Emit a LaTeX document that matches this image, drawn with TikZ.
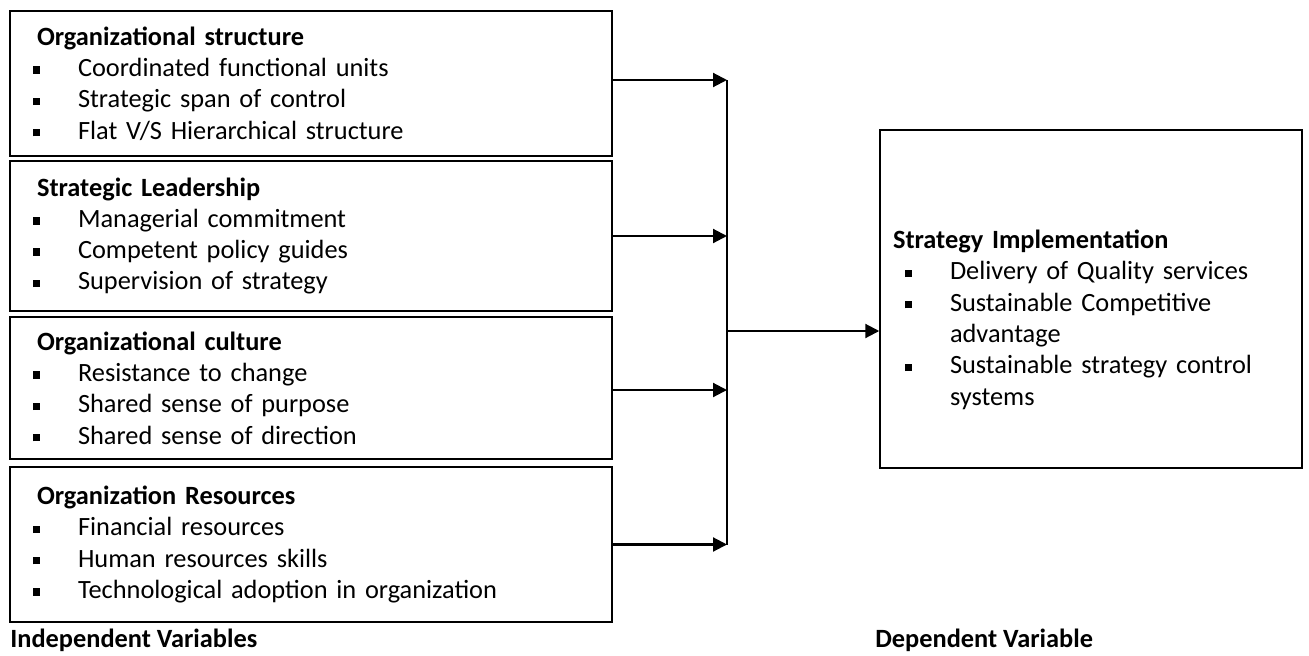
\documentclass[tikz,border=0pt]{standalone}
\usepackage{fontspec}
\setmainfont{Carlito}
\usetikzlibrary{arrows.meta, positioning}

% square bullet line of a box
\newcommand{\sqitem}[1]{\hspace*{0.46cm}\makebox[0.9cm][l]{\rule[0.22ex]{4.2pt}{4.2pt}}#1}
\newcommand{\sqitemr}[1]{\hspace*{0.5cm}\makebox[0.9cm][l]{\rule[0.22ex]{4.2pt}{4.2pt}}#1}

\begin{document}
\begin{tikzpicture}[x=0.02cm, y=-0.02cm,
  varbox/.style={rectangle, draw, line width=0.9pt, inner sep=0pt, text width=12.04cm, minimum width=12.04cm, align=left, font=\fontsize{15}{17.8}\selectfont},
  depbox/.style={rectangle, draw, line width=0.9pt, inner sep=0pt, text width=8.44cm, minimum width=8.44cm, align=left, font=\fontsize{15}{17.8}\selectfont},
  caption/.style={font=\fontsize{15}{17.8}\selectfont\bfseries, inner sep=0pt},
  arr/.style={-{Triangle[length=0.28cm, width=0.28cm]}, line width=1.2pt},
]
\useasboundingbox (0,0) rectangle (1309,656);

\node[varbox, minimum height=2.9cm] (struct) at (311,83.5) {%
\hspace*{0.54cm}\textbf{Organizational structure}\\
\sqitem{Coordinated functional units}\\
\sqitem{Strategic span of control}\\
\sqitem{Flat V/S Hierarchical structure}};
\node[varbox, minimum height=3.0cm] (lead) at (311,236) {%
\hspace*{0.54cm}\textbf{Strategic Leadership}\\
\sqitem{Managerial commitment}\\
\sqitem{Competent policy guides}\\
\sqitem{Supervision of strategy}};
\node[varbox, minimum height=2.84cm] (cult) at (311,388) {%
\hspace*{0.54cm}\textbf{Organizational culture}\\
\sqitem{Resistance to change}\\
\sqitem{Shared sense of purpose}\\
\sqitem{Shared sense of direction}};
\node[varbox, minimum height=3.1cm] (res) at (311,544.5) {%
\hspace*{0.54cm}\textbf{Organization Resources}\\
\sqitem{Financial resources}\\
\sqitem{Human resources skills}\\
\sqitem{Technological adoption in organization}};

\node[depbox, minimum height=6.76cm] (impl) at (1091,299) {%
\rule{0pt}{1.2cm}\hspace*{0.26cm}\textbf{Strategy Implementation}\\
\sqitemr{Delivery of Quality services}\\
\sqitemr{Sustainable Competitive}\\
\hspace*{1.4cm}advantage\\
\sqitemr{Sustainable strategy control}\\
\hspace*{1.4cm}systems};

\node[caption, anchor=base west] (indep) at (10,647) {Independent Variables};
\node[caption, anchor=base west] (dep) at (875,647) {Dependent Variable};

% bus line
\coordinate (bustop) at (727,80);
\coordinate (busbot) at (727,544.5);
\coordinate (busmid) at (727,331);
\draw[line width=0.8pt] (bustop) -- (busbot);

\draw[arr] (struct.east |- bustop) -- (bustop);
\draw[arr] (lead.east) -- (lead.east -| bustop);
\draw[arr] (cult.east |- 0,390) -- (727,390);
\draw[arr] (res.east) -- (busbot);
\draw[arr] (busmid) -- (impl.west |- busmid);
\end{tikzpicture}
\end{document}
